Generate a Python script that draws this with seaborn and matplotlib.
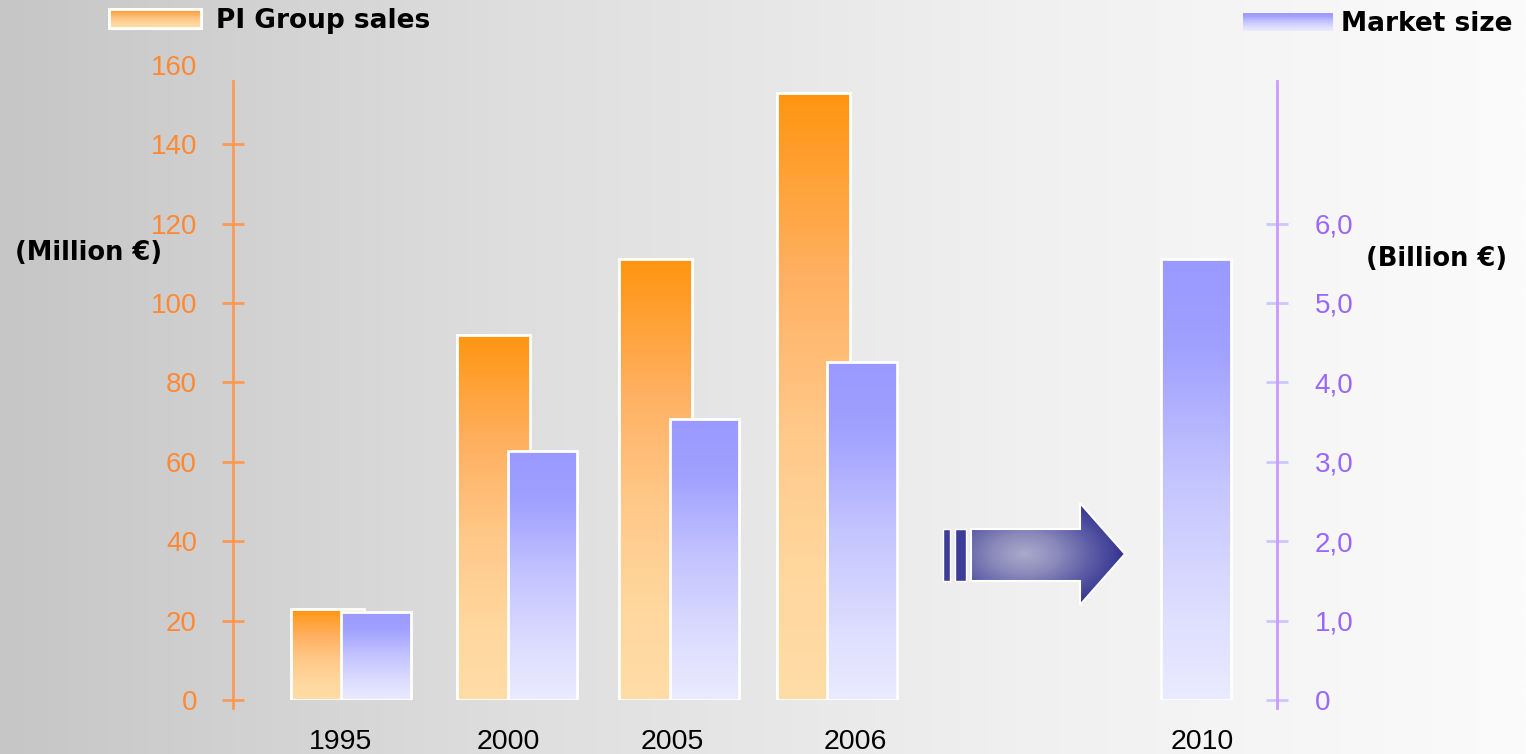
import numpy as np
import pandas as pd
import matplotlib
matplotlib.use("Agg")
import matplotlib.pyplot as plt
import seaborn as sns
from matplotlib.colors import LinearSegmentedColormap
from matplotlib.patches import Polygon, Rectangle, Patch

# ---------------- data ----------------
sales_years = ["1995", "2000", "2005", "2006"]
sales_values = [23, 92, 111, 153]            # Million €
market_years = ["1995", "2000", "2005", "2006", "2010"]
market_values = [1.11, 3.13, 3.54, 4.26, 5.56]   # Billion €
year_labels = ["1995", "2000", "2005", "2006", "2010"]
left_ticks = [0, 20, 40, 60, 80, 100, 120, 140, 160]
right_ticks = [0, 1, 2, 3, 4, 5, 6]
right_tick_labels = ["0", "1,0", "2,0", "3,0", "4,0", "5,0", "6,0"]

# ---------------- layout / style ----------------
GROUP_X = {"1995": 0.0, "2000": 1.025, "2005": 2.025, "2006": 3.0, "2010": 5.06}
LABEL_X = {"1995": -0.07, "2000": 0.966, "2005": 1.975, "2006": 3.105, "2010": 5.25}
OFFSET = 0.15
W_SALES = 0.45
W_MARKET = 0.43
ORANGE_AX = "#ff9955"
ORANGE_TXT = "#ff8833"
PURPLE_AX = "#cc99ff"
PURPLE_TICK = "#c8c8ff"
PURPLE_TXT = "#9966ff"

sns.set_theme(style="white")
plt.rcParams["font.family"] = ["Liberation Sans", "DejaVu Sans"]

W, H = 1526, 754
fig = plt.figure(figsize=(W / 100, H / 100), dpi=100)

# background gradient
bg = fig.add_axes([0, 0, 1, 1], zorder=-10)
grad = np.linspace(0, 1, 512).reshape(1, -1)
bg_cmap = LinearSegmentedColormap.from_list("bg", ["#c6c6c6", "#dedede", "#f0f0f0", "#fbfbfb"])
bg.imshow(grad, cmap=bg_cmap, aspect="auto", extent=(0, W, H, 0))
bg.set_xlim(0, W)
bg.set_ylim(H, 0)
bg.axis("off")

# decorative arrow (pixel space of background axes)
arrow_cmap = LinearSegmentedColormap.from_list("arr", ["#aaaacc", "#8a8abb", "#5c5ca6", "#333390"])
xs = np.linspace(940, 1130, 300)
ys = np.linspace(500, 610, 200)
XX, YY = np.meshgrid(xs, ys)
dist = np.sqrt(((XX - 1025) / 100.0) ** 2 + ((YY - 554) / 60.0) ** 2)
dist = np.clip(dist, 0, 1)
im = bg.imshow(dist, cmap=arrow_cmap, extent=(940, 1130, 610, 500), aspect="auto", zorder=2)
arrow_poly = Polygon([(971, 529), (1080, 529), (1080, 503), (1125, 554), (1080, 605),
                      (1080, 581), (971, 581)], closed=True, facecolor="none",
                     edgecolor="white", linewidth=1.5, zorder=3)
bg.add_patch(arrow_poly)
im.set_clip_path(arrow_poly)
for (x0, x1) in [(943, 950), (955, 966)]:
    bg.add_patch(Rectangle((x0, 529), x1 - x0, 52, facecolor="#3d3d99",
                           edgecolor="white", linewidth=1, zorder=3))

# main axes
ax_left = 233 / W
ax_w = (1277 - 233) / W
ax_bottom = 1 - 700 / H
px_per_unit = 3.97
ax_h = 160 * px_per_unit / H
ax = fig.add_axes([ax_left, ax_bottom, ax_w, ax_h])
ax.set_facecolor("none")
ax2 = ax.twinx()
ax2.patch.set_visible(False)

def min_step(v):
    v = np.sort(np.asarray(v, dtype=float))
    return np.min(np.diff(v))

sales_x = [GROUP_X[y] - OFFSET for y in sales_years]
market_x = [GROUP_X[y] + OFFSET for y in market_years]

sns.barplot(x=sales_x, y=sales_values, native_scale=True, orient="x", errorbar=None,
            width=W_SALES / min_step(sales_x), color="#ffb060",
            edgecolor="white", linewidth=2, ax=ax)
sns.barplot(x=market_x, y=market_values, native_scale=True, orient="x", errorbar=None,
            width=W_MARKET / min_step(market_x), color="#bbbbff",
            edgecolor="white", linewidth=2, ax=ax2)

orange_cmap = LinearSegmentedColormap.from_list(
    "or", [(0, "#ff9511"), (0.3, "#ffb061"), (0.55, "#ffc888"), (0.8, "#ffd79f"), (1, "#ffdca6")])
purple_cmap = LinearSegmentedColormap.from_list(
    "pu", [(0, "#9999ff"), (0.2, "#a0a0ff"), (0.5, "#c4c4ff"), (0.8, "#dedeff"), (1, "#eaeaff")])

def gradient_bars(a, cmap):
    g = np.linspace(0, 1, 256).reshape(-1, 1)
    for p in list(a.patches):
        x0, y0, w, h = p.get_x(), p.get_y(), p.get_width(), p.get_height()
        img = a.imshow(g, cmap=cmap, aspect="auto", origin="upper",
                       extent=(x0, x0 + w, y0, y0 + h), zorder=2)
        img.set_clip_path(p)
        p.set_facecolor("none")
        p.set_zorder(3)

gradient_bars(ax, orange_cmap)
gradient_bars(ax2, purple_cmap)

xlim = ((233 - 352) / 162.0, (1277 - 352) / 162.0)
ax.set_xlim(*xlim)
ax.set_ylim(0, 160)
ax2.set_ylim(0, 8)

for a in (ax, ax2):
    for s in ("top", "bottom", "left", "right"):
        a.spines[s].set_visible(False)
ax.spines["left"].set_visible(True)
ax.spines["left"].set_color(ORANGE_AX)
ax.spines["left"].set_linewidth(2)
ax.spines["left"].set_bounds(-2, 156)
ax2.spines["right"].set_visible(True)
ax2.spines["right"].set_color(PURPLE_AX)
ax2.spines["right"].set_linewidth(2)
ax2.spines["right"].set_bounds(-0.1, 7.8)

ax.set_yticks(left_ticks)
ax.set_yticklabels([str(t) for t in left_ticks])
ax.tick_params(axis="y", direction="inout", length=16, width=2, color=ORANGE_AX,
               labelcolor=ORANGE_TXT, labelsize=20, pad=18, left=True)
ax.yaxis.get_major_ticks()[-1].tick1line.set_visible(False)
ax2.set_yticks(right_ticks)
ax2.set_yticklabels(right_tick_labels)
ax2.tick_params(axis="y", direction="inout", length=16, width=2, color=PURPLE_TICK,
                labelcolor=PURPLE_TXT, labelsize=20, pad=19, right=True)

ax.set_xticks([LABEL_X[y] for y in year_labels])
ax.set_xticklabels(year_labels)
ax.tick_params(axis="x", length=0, labelsize=20.5, pad=21, labelcolor="black")
ax.set_xlabel("")
ax.set_ylabel("")
ax2.set_ylabel("")
ax.grid(False)
ax2.grid(False)

# unit labels
fig.text(15 / W, 1 - 253 / H, "(Million €)", fontsize=18.5, fontweight="bold",
         family="DejaVu Sans", ha="left", va="center", color="black")
fig.text(1366 / W, 1 - 259 / H, "(Billion €)", fontsize=18.5, fontweight="bold",
         family="DejaVu Sans", ha="left", va="center", color="black")

# legends
leg_prop = {"family": "DejaVu Sans", "weight": "bold", "size": 19}
leg1 = fig.legend(handles=[Patch(facecolor="#ffa030", edgecolor="white", linewidth=2)],
                  labels=["PI Group sales"], loc="center left",
                  bbox_to_anchor=(109 / W, 1 - 21 / H), frameon=False,
                  prop=leg_prop, labelcolor="black",
                  handlelength=3.5, handleheight=0.75, handletextpad=0.55,
                  borderpad=0, borderaxespad=0)
leg2 = fig.legend(handles=[Patch(facecolor="#bbbbff", edgecolor="none")],
                  labels=["Market size"], loc="center left",
                  bbox_to_anchor=(1243 / W, 1 - 24 / H), frameon=False,
                  prop=leg_prop, labelcolor="black",
                  handlelength=3.4, handleheight=0.7, handletextpad=0.3,
                  borderpad=0, borderaxespad=0)

fig.canvas.draw()
renderer = fig.canvas.get_renderer()
for leg, cmap, edge in ((leg1, orange_cmap, True), (leg2, purple_cmap, False)):
    for h in leg.get_patches():
        bb = h.get_window_extent(renderer)
        la = fig.add_axes([bb.x0 / W, bb.y0 / H, bb.width / W, bb.height / H], zorder=20)
        la.imshow(np.linspace(0.0, 1, 64).reshape(-1, 1), cmap=cmap, aspect="auto",
                  vmin=0, vmax=1)
        la.set_xticks([])
        la.set_yticks([])
        for s in la.spines.values():
            s.set_visible(edge)
            s.set_color("white")
            s.set_linewidth(2)

fig.savefig("out.png", dpi=100)
